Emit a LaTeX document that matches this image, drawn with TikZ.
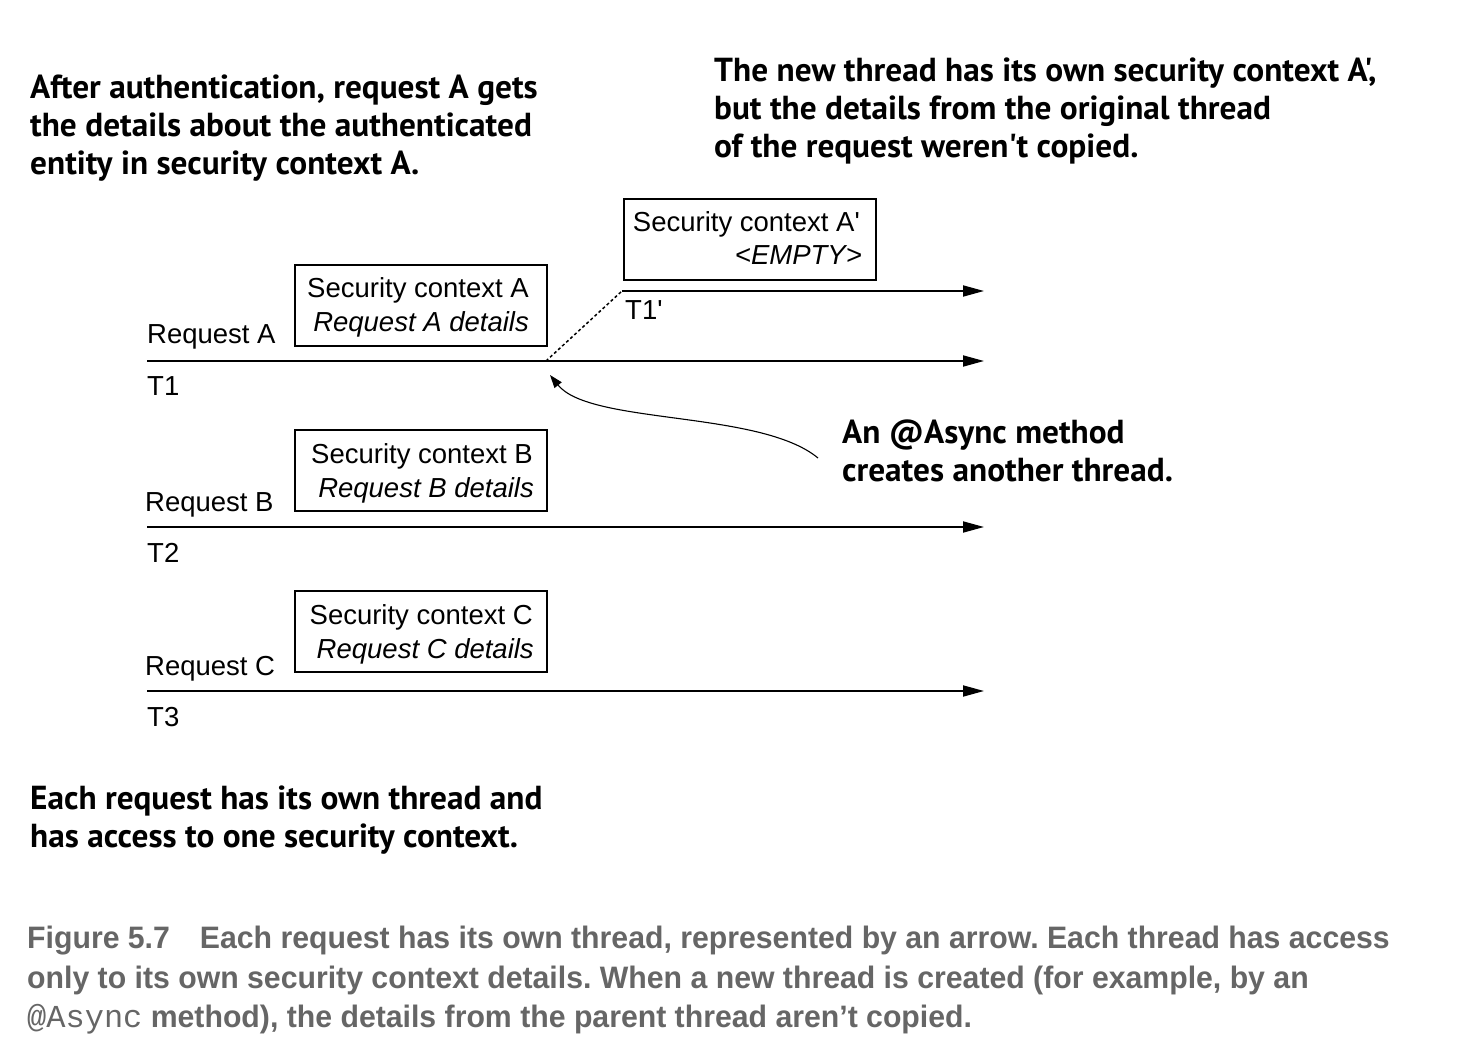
\documentclass[tikz,border=0pt]{standalone}
\usepackage{fontspec}
\usetikzlibrary{arrows.meta}
\newfontfamily\lblfont{Liberation Sans}[Ligatures=TeXOff]
\newfontfamily\annfont{PT Sans}[Ligatures=TeXOff]
\newfontfamily\capfont{Liberation Sans}[FakeStretch=0.975]
\newfontfamily\capmono{Liberation Mono}
\definecolor{capgray}{HTML}{666666}
\frenchspacing
\tikzset{
  lbl/.style={anchor=base west,inner sep=0pt,font=\lblfont\fontsize{27.5}{33}\selectfont},
  lblr/.style={anchor=base east,inner sep=0pt,font=\lblfont\fontsize{27.5}{33}\selectfont},
  ann/.style={anchor=base west,inner sep=0pt,font=\annfont\bfseries\fontsize{33.3}{38}\selectfont},
  capt/.style={anchor=base west,inner sep=0pt,text=capgray,font=\capfont\bfseries\fontsize{31}{38}\selectfont},
  ctxbox/.style={draw,line width=1.8pt,minimum width=252pt,minimum height=81pt,anchor=north west,inner sep=0pt},
  thr/.style={line width=1.8pt,-{Triangle[length=21pt,width=11pt]}},
  fork/.style={line width=1.5pt,dash pattern=on 3pt off 2.5pt},
  callout/.style={line width=1.1pt,-{Triangle[length=13pt,width=9pt]}}
}
\begin{document}
\begin{tikzpicture}[x=1pt,y=-1pt]
\useasboundingbox[fill=white] (0,0) rectangle (1470,1056);

% annotations
\node[ann] (annA1) at (30,99) {After authentication, request A gets};
\node[ann] (annA2) at (30,137) {the details about the authenticated};
\node[ann] (annA3) at (30,175) {entity in security context A.};

\node[ann] (annP1) at (714,82) {The new thread has its own security context A',};
\node[ann] (annP2) at (714,120) {but the details from the original thread};
\node[ann] (annP3) at (714,158) {of the request weren't copied.};

\node[ann] (annS1) at (842,443) {An @Async method};
\node[ann] (annS2) at (842,481) {creates another thread.};

\node[ann] (annE1) at (30,809) {Each request has its own thread and};
\node[ann] (annE2) at (30,847) {has access to one security context.};

% context boxes
\node[ctxbox] (boxAp) at (623,198) {};
\node[lblr] (boxAp1) at (860,232) {Security context A'};
\node[lblr] (boxAp2) at (862,265) {\itshape <EMPTY>};

\node[ctxbox] (boxA) at (294,264) {};
\node[lblr] (boxA1) at (529,298) {Security context A};
\node[lblr] (boxA2) at (529,332) {\itshape Request A details};

\node[ctxbox] (boxB) at (294,429) {};
\node[lblr] (boxB1) at (533,463) {Security context B};
\node[lblr] (boxB2) at (534,497) {\itshape Request B details};

\node[ctxbox] (boxC) at (294,590) {};
\node[lblr] (boxC1) at (533,624) {Security context C};
\node[lblr] (boxC2) at (534,658) {\itshape Request C details};

% thread labels
\node[lbl] (reqA) at (147,344) {Request A};
\node[lbl] (t1) at (147,396) {T1};
\node[lbl] (t1p) at (625,320) {T1'};
\node[lbl] (reqB) at (145,511) {Request B};
\node[lbl] (t2) at (147,562) {T2};
\node[lbl] (reqC) at (145,675) {Request C};
\node[lbl] (t3) at (147,726) {T3};

% thread coordinates
\coordinate (T1s) at (147,361);
\coordinate (T1e) at (984,361);
\coordinate (forkpt) at (546,361);
\coordinate (T1ps) at (622,291);
\coordinate (T1pe) at (984,291);
\coordinate (T2s) at (147,527);
\coordinate (T2e) at (984,527);
\coordinate (T3s) at (147,691);
\coordinate (T3e) at (984,691);
\coordinate (calloutS) at (818,458);
\coordinate (calloutE) at (550,375);

\draw[thr] (T1s) -- (T1e);
\draw[thr] (T1ps) -- (T1pe);
\draw[thr] (T2s) -- (T2e);
\draw[thr] (T3s) -- (T3e);
\draw[fork] (forkpt) -- (T1ps);
\draw[callout] (calloutS) .. controls (760,410) and (590,425) .. (calloutE);

% caption
\node[capt] (cap1) at (27,948) {Figure 5.7\hspace{30pt}Each request has its own thread, represented by an arrow. Each thread has access};
\node[capt] (cap2) at (27,988) {only to its own security context details. When a new thread is created (for example, by an};
\node[capt] (cap3) at (27,1027) {{\capmono\mdseries\fontsize{32}{38}\selectfont @Async} method), the details from the parent thread aren’t copied.};
\end{tikzpicture}
\end{document}
